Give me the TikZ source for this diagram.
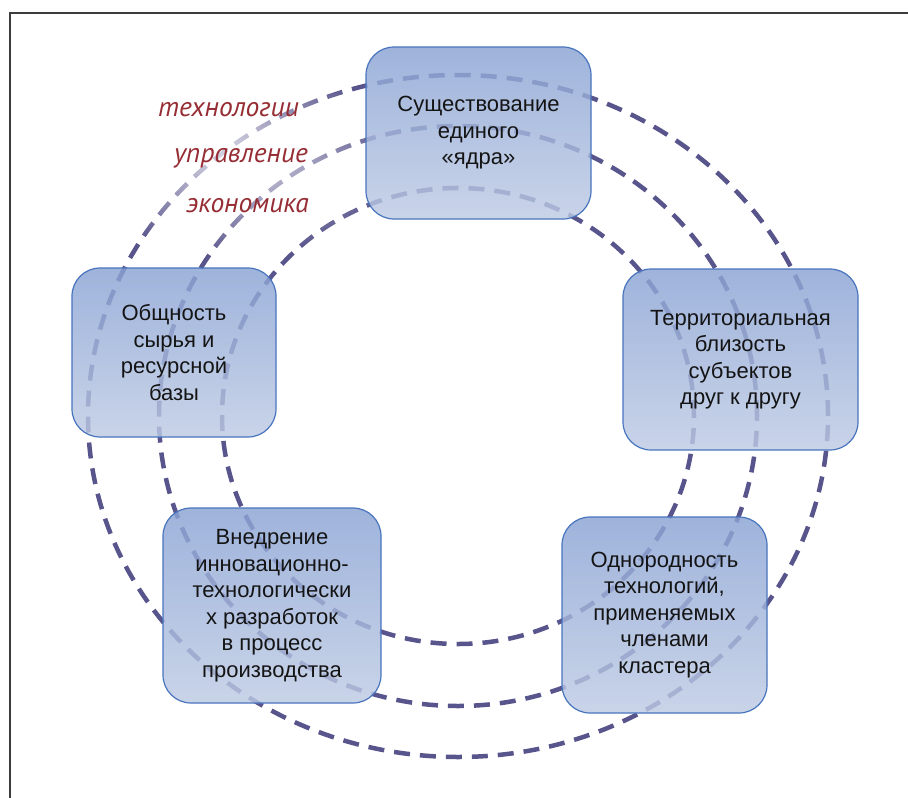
\documentclass[tikz,border=0pt]{standalone}
\usepackage{fontspec}
\setmainfont{Liberation Sans}
\newfontfamily\labfont{PT Sans}
\usetikzlibrary{fadings}
\definecolor{ringcol}{RGB}{88,84,140}
\definecolor{boxtop}{RGB}{138,163,212}
\definecolor{boxbot}{RGB}{190,203,228}
\definecolor{boxline}{RGB}{72,116,190}
\definecolor{labcol}{RGB}{150,45,52}
\definecolor{txtcol}{RGB}{20,20,20}
\definecolor{framecol}{RGB}{60,60,60}
\tikzfading[name=softspot, inner color=transparent!0, outer color=transparent!100]
\tikzset{
  ring/.style={draw=ringcol, line width=4.5pt, dash pattern=on 16pt off 10pt},
  box/.style={rectangle, rounded corners=28pt, draw=boxline, line width=1.2pt,
    top color=boxtop, bottom color=boxbot, fill opacity=0.82, text opacity=1,
    align=center, text=txtcol, inner sep=0pt,
    font=\fontsize{22pt}{26.5pt}\selectfont},
  lab/.style={anchor=base east, text=labcol, inner sep=0pt,
    font=\labfont\itshape\fontsize{27.5pt}{32pt}\selectfont}
}
\begin{document}
\begin{tikzpicture}[x=1pt,y=-1pt]
\useasboundingbox (0,0) rectangle (908,798);
\fill[white] (0,0) rectangle (908,798);
% frame (top and left edges)
\coordinate (ftr) at (908,13);
\coordinate (ftl) at (10,13);
\coordinate (fbl) at (10,798);
\draw[framecol, line width=1.5pt] (ftr) -- (ftl) -- (fbl);
% rings
\coordinate (c) at (458,416);
\draw[ring] (c) ellipse [x radius=370pt, y radius=341pt];
\draw[ring] (c) ellipse [x radius=299pt, y radius=290pt];
\draw[ring] (c) ellipse [x radius=236pt, y radius=228pt];
% soft white glow behind labels
\fill[white, fill opacity=0.8, path fading=softspot] (235,158) ellipse [x radius=165pt, y radius=100pt];
% labels
\node[lab] (l1) at (299,116) {технологии};
\node[lab] (l2) at (308,162) {управление};
\node[lab] (l3) at (309,212) {экономика};
% boxes
\node[box, minimum width=225pt, minimum height=172pt] (core) at (478.5,133)
  {Существование\\единого\\«ядра»};
\node[box, minimum width=204pt, minimum height=169pt] (res) at (174,352.5)
  {Общность\\сырья и\\ресурсной\\базы};
\node[box, minimum width=235pt, minimum height=181pt] (terr) at (740.5,359.5)
  {Территориальная\\близость\\субъектов\\друг к другу};
\node[box, minimum width=218pt, minimum height=195pt] (innov) at (272,605.5)
  {Внедрение\\инновационно-\\технологически\\х разработок\\в процесс\\производства};
\node[box, minimum width=205pt, minimum height=196pt] (tech) at (664.5,615)
  {Однородность\\технологий,\\применяемых\\членами\\кластера};
\end{tikzpicture}
\end{document}
